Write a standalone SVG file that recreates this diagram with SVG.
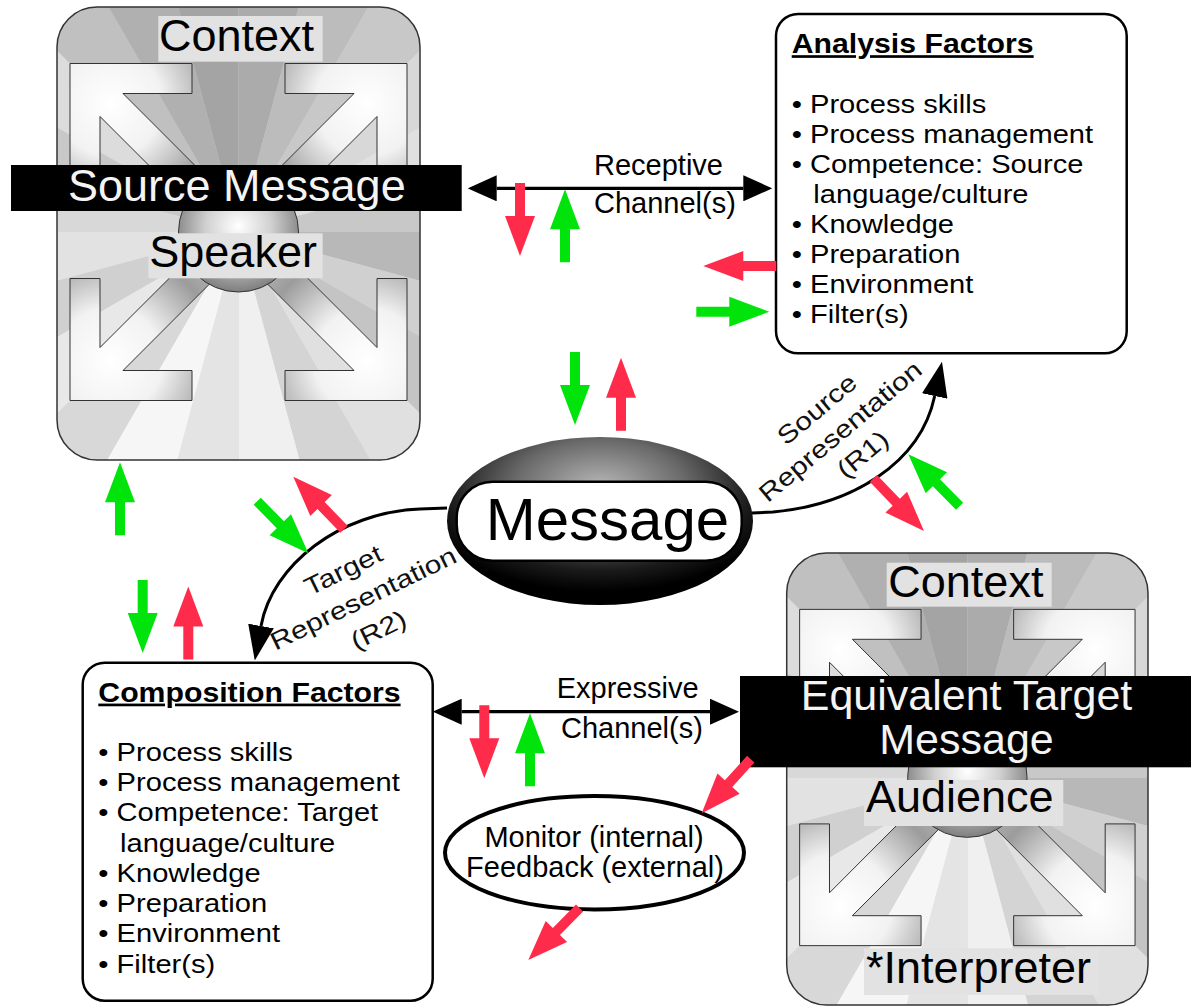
<svg xmlns="http://www.w3.org/2000/svg" xmlns:xlink="http://www.w3.org/1999/xlink" width="1191" height="1006" viewBox="0 0 1191 1006">
<defs>
<style>
  text { font-family: "Liberation Sans", Arial, Helvetica, sans-serif; fill: #000; }
  .big { font-size: 45px; }
  .bar-text { font-size: 45px; fill: #f4f4f4; }
  .bar-text2 { font-size: 43px; fill: #f4f4f4; }
  .label-bg { fill: #e2e2e2; }
  .bar { fill: #000; }
  .list { font-size: 26px; }
  .title { font-size: 27px; font-weight: bold; text-decoration: underline; }
  .panel { fill: #fff; stroke: #000; stroke-width: 2.5; }
  .chan { font-size: 29px; }
  .rot { font-size: 25px; text-anchor: middle; fill: #111; }
  .red { fill: #ff2b4a; }
  .green { fill: #00e40b; }
  .conn { fill: none; stroke: #000; stroke-width: 3.3; }
  .curve { fill: none; stroke: #000; stroke-width: 3; }
  .ctx-frame { fill: none; stroke: #333; stroke-width: 1.5; }
  .corner { fill: url(#gCorner); stroke: #333; stroke-width: 1; }
</style>

<!-- black arrowheads for channels and representation curves -->
<marker id="headS" viewBox="0 0 29 26" refX="0" refY="13" markerWidth="29" markerHeight="26" markerUnits="userSpaceOnUse" orient="auto-start-reverse">
  <path d="M0,0 L29,13 L0,26 Z" fill="#000"/>
</marker>
<marker id="headL" viewBox="0 0 35 26" refX="0" refY="13" markerWidth="35" markerHeight="26" markerUnits="userSpaceOnUse" orient="auto">
  <path d="M0,0 L35,13 L0,26 Z" fill="#000"/>
</marker>

<!-- small block arrow (tip at origin, pointing up) -->
<path id="flow" d="M0,0 L15,40 L5,40 L5,73 L-5,73 L-5,40 L-15,40 Z"/>

<radialGradient id="gCorner" gradientUnits="userSpaceOnUse" cx="40" cy="40" r="175" fx="40" fy="40">
  <stop offset="0" stop-color="#ffffff"/>
  <stop offset="0.3" stop-color="#f2f2f2"/>
  <stop offset="0.62" stop-color="#9c9c9c"/>
  <stop offset="1" stop-color="#d2d2d2"/>
</radialGradient>
<radialGradient id="gBall" cx="0.5" cy="0.45" r="0.55">
  <stop offset="0" stop-color="#ffffff"/>
  <stop offset="0.5" stop-color="#d0d0d0"/>
  <stop offset="1" stop-color="#7e7e7e"/>
</radialGradient>
<radialGradient id="gMsg" cx="0.5" cy="0.3" r="0.62">
  <stop offset="0" stop-color="#b8b8b8"/>
  <stop offset="0.45" stop-color="#6a6a6a"/>
  <stop offset="0.8" stop-color="#1a1a1a"/>
  <stop offset="1" stop-color="#000"/>
</radialGradient>

<clipPath id="ctx-clip">
  <rect x="0" y="0" width="363" height="453" rx="40"/>
</clipPath>

<!-- corner arrow: L-shaped head at origin, shaft running toward the centre -->
<path id="corner" class="corner" d="M0,0 H122 V30 H53 L172,149 L149,172 L30,53 V122 H0 Z"/>

<!-- context panel artwork, local box 363 x 453 -->
<g id="ctx-art">
  <g clip-path="url(#ctx-clip)">
    <rect x="0" y="0" width="363" height="453" fill="#d4d4d4"/>
    <g transform="translate(181.5,225)">
      <path d="M0,0 L420,0 L405.7,108.7 Z" fill="#b8b8b8"/>
      <path d="M0,0 L405.7,108.7 L363.7,210 Z" fill="#d0d0d0"/>
      <path d="M0,0 L363.7,210 L297,297 Z" fill="#c4c4c4"/>
      <path d="M0,0 L297,297 L210,363.7 Z" fill="#e0e0e0"/>
      <path d="M0,0 L210,363.7 L108.7,405.7 Z" fill="#d4d4d4"/>
      <path d="M0,0 L108.7,405.7 L0,420 Z" fill="#f0f0f0"/>
      <path d="M0,0 L0,420 L-108.7,405.7 Z" fill="#e4e4e4"/>
      <path d="M0,0 L-108.7,405.7 L-210,363.7 Z" fill="#f6f6f6"/>
      <path d="M0,0 L-210,363.7 L-297,297 Z" fill="#d8d8d8"/>
      <path d="M0,0 L-297,297 L-363.7,210 Z" fill="#e8e8e8"/>
      <path d="M0,0 L-363.7,210 L-405.7,108.7 Z" fill="#d0d0d0"/>
      <path d="M0,0 L-405.7,108.7 L-420,0 Z" fill="#e2e2e2"/>
      <path d="M0,0 L-420,0 L-405.7,-108.7 Z" fill="#d8d8d8"/>
      <path d="M0,0 L-405.7,-108.7 L-363.7,-210 Z" fill="#c8c8c8"/>
      <path d="M0,0 L-363.7,-210 L-297,-297 Z" fill="#dcdcdc"/>
      <path d="M0,0 L-297,-297 L-210,-363.7 Z" fill="#c0c0c0"/>
      <path d="M0,0 L-210,-363.7 L-108.7,-405.7 Z" fill="#b0b0b0"/>
      <path d="M0,0 L-108.7,-405.7 L0,-420 Z" fill="#a4a4a4"/>
      <path d="M0,0 L0,-420 L108.7,-405.7 Z" fill="#ababab"/>
      <path d="M0,0 L108.7,-405.7 L210,-363.7 Z" fill="#bcbcbc"/>
      <path d="M0,0 L210,-363.7 L297,-297 Z" fill="#c8c8c8"/>
      <path d="M0,0 L297,-297 L363.7,-210 Z" fill="#d8d8d8"/>
      <path d="M0,0 L363.7,-210 L405.7,-108.7 Z" fill="#e0e0e0"/>
      <path d="M0,0 L405.7,-108.7 L420,0 Z" fill="#c8c8c8"/>
    </g>
  </g>
  <g transform="translate(181.5,225)">
    <use xlink:href="#corner" transform="translate(-168.5,-168.5)"/>
    <use xlink:href="#corner" transform="translate(168.5,-168.5) scale(-1,1)"/>
    <use xlink:href="#corner" transform="translate(-168.5,168.5) scale(1,-1)"/>
    <use xlink:href="#corner" transform="translate(168.5,168.5) scale(-1,-1)"/>
    <circle cx="0" cy="0" r="60" fill="url(#gBall)" stroke="#333" stroke-width="1"/>
  </g>
  <rect class="ctx-frame" x="0" y="0" width="363" height="453" rx="40"/>
</g>
</defs>

<rect width="1191" height="1006" fill="#fff"/>

<!-- Speaker context -->
<g id="speaker-context">
  <use xlink:href="#ctx-art" transform="translate(57,7)"/>
  <rect class="label-bg" x="158.3" y="16" width="164.4" height="45.7"/>
  <text class="big" x="159" y="50.7">Context</text>
  <rect class="bar" x="11" y="165" width="450.7" height="46"/>
  <text class="bar-text" x="68" y="201">Source Message</text>
  <rect class="label-bg" x="148.3" y="233.3" width="174.4" height="45"/>
  <text class="big" x="149.3" y="267">Speaker</text>
</g>

<!-- Audience context -->
<g id="audience-context">
  <use xlink:href="#ctx-art" transform="translate(786.7,553) scale(0.9953,0.9978)"/>
  <rect class="label-bg" x="886.7" y="562.7" width="165" height="44"/>
  <text class="big" x="888.3" y="596.7">Context</text>
  <rect class="bar" x="740" y="676" width="451" height="91.3"/>
  <text class="bar-text2" x="966.5" y="709.5" text-anchor="middle">Equivalent Target</text>
  <text class="bar-text2" x="966.5" y="754" text-anchor="middle">Message</text>
  <rect class="label-bg" x="864" y="780" width="199.3" height="46"/>
  <text class="big" x="866" y="811.7">Audience</text>
  <rect class="label-bg" x="864" y="948.3" width="235.3" height="46.7"/>
  <text class="big" x="866" y="983.3">*Interpreter</text>
</g>

<!-- connectors -->
<g id="connectors">
  <line class="conn" x1="496.7" y1="188.3" x2="743.3" y2="188.3" marker-start="url(#headS)" marker-end="url(#headS)"/>
  <line class="conn" x1="461.7" y1="711.7" x2="710" y2="711.7" marker-start="url(#headS)" marker-end="url(#headS)"/>
  <path class="curve" d="M752,513 L773,512 C850,505 920,465 934.7,396" marker-end="url(#headL)"/>
  <path class="curve" d="M447,508 L420,509 C340,512 272,565 261,626" marker-end="url(#headL)"/>
</g>

<!-- channel and representation labels -->
<g id="channel-labels">
  <text class="chan" x="594" y="175">Receptive</text>
  <text class="chan" x="594" y="212.7">Channel(s)</text>
  <text class="chan" x="556.7" y="698.3">Expressive</text>
  <text class="chan" x="561" y="738.3">Channel(s)</text>
  <g transform="translate(840,431) rotate(-40) scale(1.2,1)">
    <text class="rot" x="-3" y="-23">Source</text>
    <text class="rot" x="0" y="9">Representation</text>
    <text class="rot" x="2" y="41">(R1)</text>
  </g>
  <g transform="translate(363,598) rotate(-26) scale(1.2,1)">
    <text class="rot" x="-4.6" y="-25">Target</text>
    <text class="rot" x="0" y="9">Representation</text>
    <text class="rot" x="0" y="44">(R2)</text>
  </g>
</g>

<!-- Analysis factors -->
<g id="analysis-factors">
  <rect class="panel" x="776" y="14" width="350.7" height="339.3" rx="22"/>
  <g transform="translate(791.7,0) scale(1.12,1)">
    <text class="title" x="0" y="53.3">Analysis Factors</text>
    <text class="list" x="0" y="113.3">• Process skills</text>
    <text class="list" x="0" y="143.3">• Process management</text>
    <text class="list" x="0" y="173.3">• Competence: Source</text>
    <text class="list" x="19.3" y="203.3">language/culture</text>
    <text class="list" x="0" y="233.3">• Knowledge</text>
    <text class="list" x="0" y="263.3">• Preparation</text>
    <text class="list" x="0" y="293.3">• Environment</text>
    <text class="list" x="0" y="323.3">• Filter(s)</text>
  </g>
</g>

<!-- Composition factors -->
<g id="composition-factors">
  <rect class="panel" x="82.7" y="662.7" width="350" height="338" rx="22"/>
  <g transform="translate(98.3,0) scale(1.12,1)">
    <text class="title" x="0" y="701.7">Composition Factors</text>
    <text class="list" x="0" y="761">• Process skills</text>
    <text class="list" x="0" y="791">• Process management</text>
    <text class="list" x="0" y="821.5">• Competence: Target</text>
    <text class="list" x="19.4" y="852">language/culture</text>
    <text class="list" x="0" y="882">• Knowledge</text>
    <text class="list" x="0" y="912">• Preparation</text>
    <text class="list" x="0" y="942.5">• Environment</text>
    <text class="list" x="0" y="973">• Filter(s)</text>
  </g>
</g>

<!-- Message -->
<g id="message">
  <ellipse cx="600" cy="521" rx="153" ry="84" fill="url(#gMsg)"/>
  <rect x="456.7" y="481.7" width="285" height="79" rx="36" fill="#fff" stroke="#000" stroke-width="2.5"/>
  <text x="607.5" y="540" font-size="60" text-anchor="middle">Message</text>
</g>

<!-- Monitor / feedback -->
<g id="monitor">
  <ellipse cx="594.5" cy="852.7" rx="149.5" ry="56.7" fill="#fff" stroke="#000" stroke-width="4"/>
  <text class="chan" x="594" y="846.7" text-anchor="middle">Monitor (internal)</text>
  <text class="chan" x="595" y="876.7" text-anchor="middle">Feedback (external)</text>
</g>

<!-- red / green flow arrows -->
<g id="flows">
  <use xlink:href="#flow" class="red" transform="translate(520,256) rotate(180)"/>
  <use xlink:href="#flow" class="green" transform="translate(565,189.3)"/>
  <use xlink:href="#flow" class="red" transform="translate(703.3,266) rotate(-90)"/>
  <use xlink:href="#flow" class="green" transform="translate(769.3,311.7) rotate(90)"/>
  <use xlink:href="#flow" class="green" transform="translate(575,425) rotate(180)"/>
  <use xlink:href="#flow" class="red" transform="translate(621,357.7)"/>
  <use xlink:href="#flow" class="red" transform="translate(924,531) rotate(136.1)"/>
  <use xlink:href="#flow" class="green" transform="translate(908.3,454.3) rotate(-44.6)"/>
  <use xlink:href="#flow" class="green" transform="translate(308.3,553.3) rotate(135.6)"/>
  <use xlink:href="#flow" class="red" transform="translate(293.3,476.7) rotate(-44)"/>
  <use xlink:href="#flow" class="green" transform="translate(120,462.3)"/>
  <use xlink:href="#flow" class="green" transform="translate(142.7,653) rotate(180)"/>
  <use xlink:href="#flow" class="red" transform="translate(188.3,586.4)"/>
  <use xlink:href="#flow" class="red" transform="translate(484.3,778.3) rotate(180)"/>
  <use xlink:href="#flow" class="green" transform="translate(530,713.3)"/>
  <use xlink:href="#flow" class="red" transform="translate(701.7,813.3) rotate(222.2)"/>
  <use xlink:href="#flow" class="red" transform="translate(528.3,960) rotate(224.6)"/>
</g>
</svg>
